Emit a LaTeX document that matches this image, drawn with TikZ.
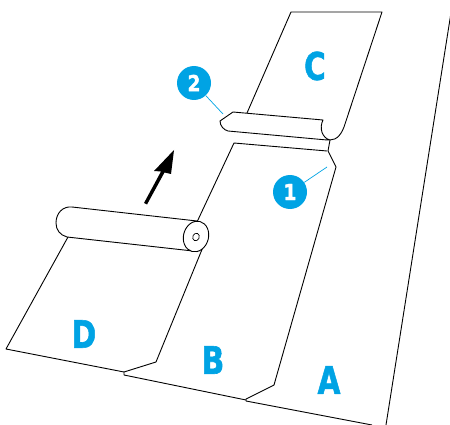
\documentclass[tikz,border=0pt]{standalone}
\usepackage{fontspec}
\setmainfont{DejaVu Sans}
\newfontfamily\heavyface[BoldFeatures={FakeBold=1.6}]{DejaVu Sans}
\definecolor{hpblue}{HTML}{00A3E4}
\tikzset{
  sheet/.style={line width=0.9pt,black,line join=round},
  letter/.style={text=hpblue,font=\heavyface\fontsize{38}{38}\selectfont\bfseries,inner sep=0pt,xscale=0.78},
  badge/.style={circle,fill=hpblue,minimum size=34pt,inner sep=0pt},
  badgetext/.style={text=white,font=\heavyface\fontsize{22}{22}\selectfont\bfseries,inner sep=0pt,xscale=0.85},
  leader/.style={hpblue,line width=0.7pt}
}
\begin{document}
\begin{tikzpicture}[x=1pt,y=-1pt]
\useasboundingbox (0,0) rectangle (450,425);
\clip (0,0) rectangle (450,425);
% sheet C and its roll
\draw[sheet] (247,113) -- (291,12) -- (382,12) -- (345,124) .. controls (342,134) and (337,140) .. (330,140);
\draw[sheet] (233,112) -- (323,120) .. controls (319,128) and (322,138) .. (330,140) -- (327,140) -- (228,131) .. controls (224,130) and (220,126) .. (220,121) -- cycle;
% sheet B top and edge of A
\draw[sheet] (197,222) -- (234,143) -- (327,151);
\draw[sheet] (330,140) -- (328,151) -- (336,167) -- (274,385) -- (246,399) -- (246,401) -- (372,425);
% sheet A free edge
\draw[sheet] (453,0) -- (386,425);
% B bottom
\draw[sheet] (246,400) -- (124,375) -- (124,372) -- (156,362) -- (203,247);
% D sheet
\draw[sheet] (124,372) -- (6,349) -- (68,237);
% roll D
\draw[sheet] (72,207) -- (197,221);
\draw[sheet] (193,251) -- (67,237) .. controls (60,235) and (56,230) .. (56,223) .. controls (56,213) and (63,206) .. (72,207);
\draw[sheet,fill=white] (196,236.5) ellipse [x radius=12.5,y radius=15.5,rotate=-15];
\draw[line width=0.7pt] (196,237) ellipse [x radius=3.2,y radius=3.8,rotate=-25];
% arrow
\fill[black] (174,150) -- (171,174) -- (164.5,172.5) -- (147,204.5) -- (144,203) -- (161,171.5) -- (154,171) -- cycle;
% letters
\node[letter] (lc) at (315,66) {C};
\node[letter] (ld) at (84,334) {D};
\node[letter] (lb) at (213,360) {B};
\node[letter] (la) at (329,380) {A};
% badges
\coordinate (t2) at (223,114);
\coordinate (t1) at (327,167);
\node[badge] (b2) at (194,83) {};
\node[badge] (b1) at (290,192) {};
\node[badgetext] (n2) at (b2.center) {2};
\node[badgetext] (n1) at (b1.center) {1};
\draw[leader] (b2) -- (t2);
\draw[leader] (b1) -- (t1);
\end{tikzpicture}
\end{document}
